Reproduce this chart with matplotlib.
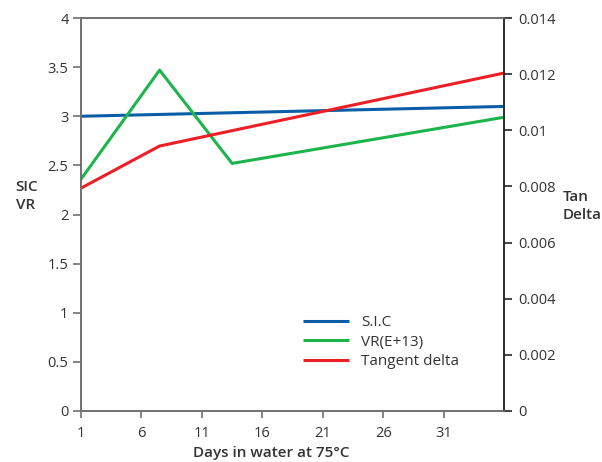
import matplotlib.pyplot as plt

plt.rcParams['font.family'] = ['Open Sans', 'DejaVu Sans']

# data
days_sic = [1, 36]
sic = [3.0, 3.1]
days_vr = [1, 7.5, 13.5, 36]
vr = [2.36, 3.47, 2.52, 2.99]
days_tan = [1, 7.5, 36]
tan_delta = [0.00794, 0.00944, 0.01204]

x_ticks = [1, 6, 11, 16, 21, 26, 31]
left_ticks = [0, 0.5, 1, 1.5, 2, 2.5, 3, 3.5, 4]
left_labels = ['0', '0.5', '1', '1.5', '2', '2.5', '3', '3.5', '4']
right_ticks = [0, 0.002, 0.004, 0.006, 0.008, 0.01, 0.012, 0.014]
right_labels = ['0', '0.002', '0.004', '0.006', '0.008', '0.01', '0.012', '0.014']

blue = '#0a5ea8'
green = '#1db44b'
red = '#ec1f27'
txt = '#333333'

fig = plt.figure(figsize=(6.02, 4.62), dpi=100)
ax = fig.add_axes([0.1346, 0.1104, 0.7026, 0.8506])
ax2 = ax.twinx()

l1, = ax.plot(days_sic, sic, color=blue, lw=2.2, solid_capstyle='butt')
l2, = ax.plot(days_vr, vr, color=green, lw=2.2, solid_capstyle='butt')
l3, = ax2.plot(days_tan, tan_delta, color=red, lw=2.2, solid_capstyle='butt')

ax.set_xlim(1, 36)
ax.set_ylim(0, 4)
ax2.set_ylim(0, 0.014)
ax.set_xticks(x_ticks)
ax.set_yticks(left_ticks)
ax.set_yticklabels(left_labels)
ax2.set_yticks(right_ticks)
ax2.set_yticklabels(right_labels)

for a in (ax, ax2):
    for s in a.spines.values():
        s.set_color('#707070')
        s.set_linewidth(1.2)
ax2.spines['right'].set_color('#222222')

ax.tick_params(axis='x', colors='#707070', labelcolor=txt, labelsize=10.5, length=5, width=1.2, pad=6)
ax.tick_params(axis='y', colors='#707070', labelcolor=txt, labelsize=10.5, length=6, width=1.2, pad=3)
ax2.tick_params(axis='y', colors='#222222', labelcolor=txt, labelsize=10.5, length=6, width=1.2, pad=4)

fig.text(0.45, 0.0195, 'Days in water at 75°C', fontsize=11, color=txt, fontweight='semibold',
         va='center', ha='center')
fig.text(0.026, 0.575, 'SIC\nVR', fontsize=11, color=txt, fontweight='semibold',
         va='center', ha='left', linespacing=1.35)
fig.text(0.934, 0.555, 'Tan\nDelta', fontsize=11, color=txt, fontweight='semibold',
         va='center', ha='left', linespacing=1.35)

ax2.legend([l1, l2, l3], ['S.I.C', 'VR(E+13)', 'Tangent delta'],
           loc='upper left', bbox_to_anchor=(0.51, 0.26), frameon=False,
           fontsize=11, labelcolor=txt, handlelength=3.0, handletextpad=0.8,
           labelspacing=0.3, borderaxespad=0)

fig.savefig('out.png', dpi=100)
